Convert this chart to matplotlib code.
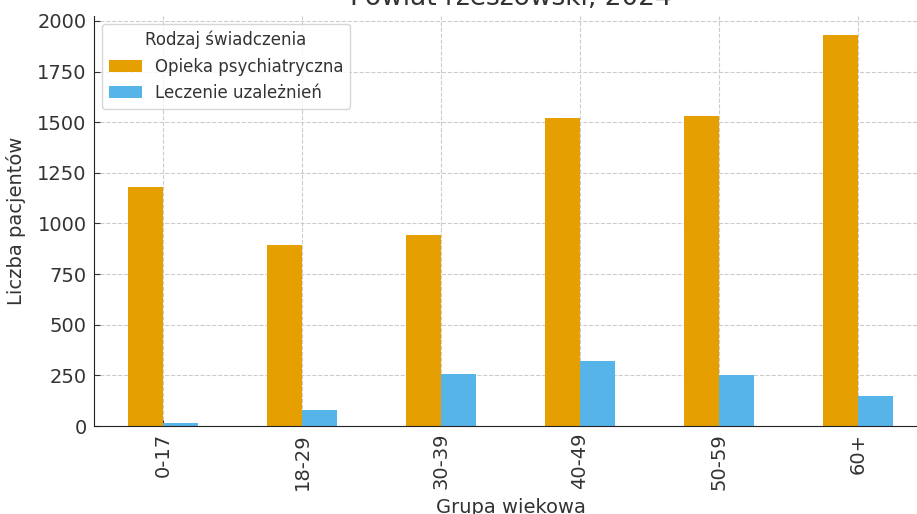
import numpy as np
import matplotlib.pyplot as plt

# --- data ---
groups = ['0-17', '18-29', '30-39', '40-49', '50-59', '60+']
psych = [1180, 895, 945, 1520, 1530, 1930]
addict = [13, 79, 257, 322, 252, 147]
series_names = ['Opieka psychiatryczna', 'Leczenie uzależnień']

plt.rcParams['font.family'] = 'DejaVu Sans'
txt = '#333333'

W, H = 917, 514
fig = plt.figure(figsize=(W / 100, H / 100), dpi=100)
# axes runs a little past the right edge (original was cropped)
left, right, bottom, top = 93.5, 927.5, 426, 15.7
ax = fig.add_axes([left / W, 1 - bottom / H, (right - left) / W, (bottom - top) / H])

x = np.arange(len(groups))
w = 0.25
ax.bar(x - w / 2, psych, w, color='#E69F00', label=series_names[0], zorder=2)
ax.bar(x + w / 2, addict, w, color='#56B4E9', label=series_names[1], zorder=2)

ax.set_xlim(-0.5, len(groups) - 0.5)
ax.set_ylim(0, 2026)
ax.set_yticks(range(0, 2001, 250))
ax.set_xticks(x)
ax.set_xticklabels(groups, rotation=90)

ax.grid(True, linestyle='--', color='#cccccc', linewidth=0.8, zorder=0)
ax.set_axisbelow(True)
for s in ['top', 'right']:
    ax.spines[s].set_visible(False)
ax.spines['left'].set_color('#222222')
ax.spines['bottom'].set_color('#222222')
ax.tick_params(axis='both', direction='in', length=4, labelsize=14, colors=txt,
               pad=5)

ax.set_ylabel('Liczba pacjentów', fontsize=14, color=txt, labelpad=8)
ax.set_xlabel('Grupa wiekowa', fontsize=14, color=txt, labelpad=6)
ax.set_title('Powiat rzeszowski, 2024', fontsize=19, color=txt, pad=8)

leg = ax.legend(title='Rodzaj świadczenia', loc='upper left', fontsize=12,
                title_fontsize=12, frameon=True, fancybox=True,
                borderaxespad=0.5)
leg.get_frame().set_edgecolor('#cccccc')
for t in leg.get_texts():
    t.set_color(txt)
leg.get_title().set_color(txt)

fig.savefig('out.png', dpi=100)
